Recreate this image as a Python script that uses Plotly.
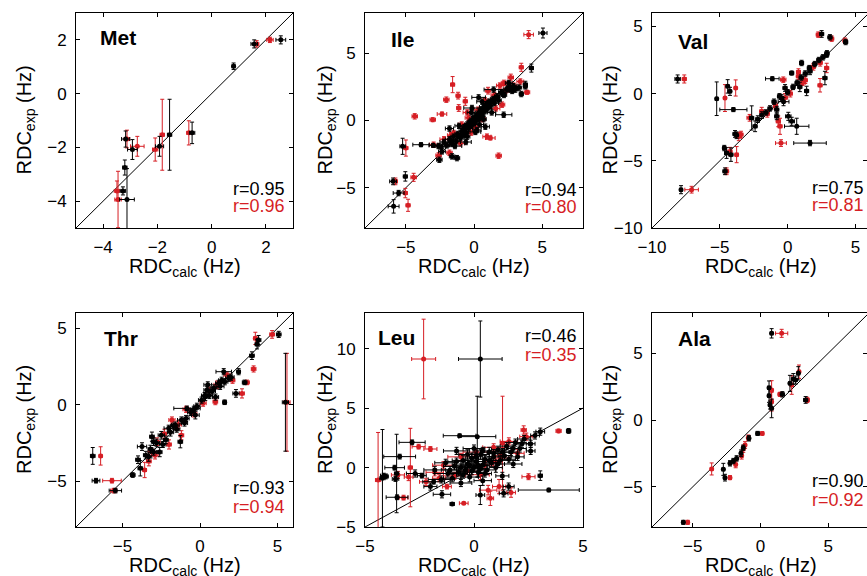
import plotly.graph_objects as go

# ---------------- data: (calc, exp, calc_err, exp_err) ----------------
MET_BLACK = [
    (2.55, 2.00, 0.18, 0.15), (1.57, 1.85, 0.12, 0.15), (0.81, 1.02, 0.06, 0.12),
    (-0.72, -1.46, 0.10, 0.40), (-1.55, -1.53, 0.08, 1.32), (-1.92, -1.96, 0.15, 0.37),
    (-2.92, -2.08, 0.18, 0.37), (-3.17, -1.69, 0.15, 0.30), (-3.20, -2.75, 0.08, 0.28),
    (-3.27, -3.62, 0.10, 0.15), (-3.12, -3.94, 0.27, 1.15),
]
MET_RED = [
    (2.15, 2.00, 0.12, 0.10), (1.66, 1.85, 0.08, 0.12), (-0.84, -1.46, 0.08, 0.45),
    (-1.82, -1.53, 0.08, 1.32), (-2.08, -2.08, 0.10, 0.43), (-2.74, -1.96, 0.25, 0.37),
    (-3.12, -1.69, 0.10, 0.33), (-3.49, -3.62, 0.10, 0.37), (-3.45, -3.94, 0.12, 1.05),
]

ILE_BLACK = [
    (5.06, 6.51, 0.30, 0.37), (4.21, 3.90, 0.15, 0.30), (3.77, 2.67, 0.15, 0.25),
    (3.77, 2.54, 0.12, 0.20), (3.47, 1.97, 0.15, 0.20), (3.03, 2.30, 0.20, 0.20),
    (2.55, 2.79, 0.25, 0.20), (2.18, 0.43, 0.60, 0.20), (1.44, 2.30, 0.70, 0.20),
    (0.34, 1.72, 0.50, 0.20), (-0.15, 0.93, 0.60, 0.20), (0.22, -0.71, 0.30, 0.20),
    (0.83, -0.46, 0.30, 0.20), (0.10, -0.85, 0.40, 0.20), (-5.24, -1.92, 0.20, 0.60),
    (-3.89, -1.80, 0.60, 0.15), (-5.94, -4.53, 0.25, 0.25), (-5.04, -4.16, 0.15, 0.35),
    (-5.53, -5.40, 0.40, 0.20), (-5.90, -6.39, 0.40, 0.50), (-2.54, -2.92, 0.20, 0.20),
    (-2.35, -2.30, 0.25, 0.20), (-1.61, -2.67, 0.20, 0.20), (-1.25, -2.80, 0.20, 0.20),
    (-3.00, -1.85, 0.30, 0.15), (-2.60, -1.90, 0.25, 0.20), (-2.20, -1.60, 0.30, 0.20),
    (-2.00, -1.85, 0.20, 0.20), (-1.80, -1.40, 0.30, 0.20), (-1.60, -1.75, 0.20, 0.20),
    (-1.50, -1.20, 0.20, 0.20), (-1.30, -1.55, 0.30, 0.20), (-1.20, -1.00, 0.20, 0.20),
    (-1.00, -1.30, 0.20, 0.20), (-0.90, -0.80, 0.20, 0.20), (-0.80, -1.10, 0.30, 0.20),
    (-0.70, -0.50, 0.20, 0.20), (-0.60, -0.90, 0.20, 0.20), (-0.50, -0.30, 0.20, 0.20),
    (-0.40, -0.60, 0.30, 0.20), (-0.30, -0.10, 0.20, 0.20), (-0.20, -0.40, 0.20, 0.20),
    (-0.10, 0.10, 0.20, 0.20), (0.00, -0.20, 0.20, 0.20), (0.10, 0.30, 0.20, 0.20),
    (0.20, 0.00, 0.20, 0.20), (0.30, 0.50, 0.30, 0.20), (0.40, 0.20, 0.20, 0.20),
    (0.50, 0.80, 0.20, 0.20), (0.60, 0.40, 0.20, 0.20), (0.70, 1.00, 0.30, 0.20),
    (0.80, 0.70, 0.20, 0.20), (0.90, 1.20, 0.20, 0.20), (1.00, 0.90, 0.30, 0.20),
    (1.10, 1.40, 0.20, 0.20), (1.20, 1.10, 0.20, 0.20), (1.40, 1.60, 0.20, 0.20),
    (1.50, 1.30, 0.30, 0.20), (1.70, 1.80, 0.20, 0.20), (1.80, 1.50, 0.20, 0.20),
    (2.00, 2.10, 0.20, 0.20), (2.20, 1.90, 0.20, 0.20), (2.40, 2.30, 0.20, 0.20),
    (2.60, 2.50, 0.20, 0.20), (2.80, 2.20, 0.20, 0.20), (3.30, 2.45, 0.20, 0.20),
    (-1.40, -1.90, 0.50, 0.20), (-0.60, -1.60, 0.40, 0.20), (-1.80, -0.60, 0.30, 0.20),
    (0.60, 1.40, 0.40, 0.20), (1.30, 0.60, 0.30, 0.20), (-0.20, 0.60, 0.30, 0.20),
    (-1.10, -0.40, 0.30, 0.20), (0.40, -0.30, 0.30, 0.20), (-2.40, -1.95, 0.30, 0.20),
    (-1.70, -1.55, 0.20, 0.20), (-1.10, -1.15, 0.20, 0.20), (-0.75, -0.75, 0.20, 0.20),
    (-0.35, -0.35, 0.20, 0.20), (0.05, 0.05, 0.20, 0.20), (0.45, 0.55, 0.20, 0.20),
    (0.85, 0.95, 0.20, 0.20), (1.25, 1.35, 0.20, 0.20), (1.65, 1.65, 0.20, 0.20),
    (2.10, 2.00, 0.20, 0.20), (2.50, 2.35, 0.20, 0.20), (2.90, 2.55, 0.20, 0.20),
    (-0.50, -1.20, 0.20, 0.20), (0.70, 0.10, 0.20, 0.20),
]
ILE_RED = [
    (4.01, 6.39, 0.35, 0.30), (3.47, 3.96, 0.15, 0.30), (3.89, 2.10, 0.20, 0.15),
    (-1.57, 2.67, 0.15, 0.60), (-2.03, 1.55, 0.20, 0.20), (-1.17, 1.85, 0.15, 0.25),
    (-1.12, 0.93, 0.15, 0.25), (-0.64, 1.43, 0.15, 0.30), (-4.35, 0.31, 0.20, 0.20),
    (-3.03, 0.06, 0.20, 0.15), (-2.35, 0.48, 0.35, 0.15), (1.81, -2.62, 0.20, 0.20),
    (0.95, -1.20, 0.30, 0.20), (1.20, -1.30, 0.35, 0.15), (-5.00, -2.05, 0.15, 0.60),
    (-2.96, -1.80, 0.30, 0.20), (-4.43, -4.23, 0.20, 0.30), (-5.04, -5.40, 0.15, 0.35),
    (-4.84, -6.31, 0.15, 0.45), (-5.77, -4.53, 0.15, 0.25), (1.03, 2.22, 0.20, 0.25),
    (2.06, 1.18, 0.20, 0.20), (-1.49, -0.93, 0.25, 0.20), (-2.20, -1.40, 0.30, 0.20),
    (-1.70, -1.10, 0.25, 0.20), (-0.90, -0.30, 0.25, 0.20), (-0.40, 0.20, 0.25, 0.20),
    (0.30, 0.80, 0.25, 0.20), (0.80, 1.50, 0.25, 0.20), (1.50, 1.90, 0.25, 0.20),
    (2.30, 2.20, 0.25, 0.20), (2.90, 2.60, 0.25, 0.20), (3.40, 2.90, 0.25, 0.20),
    (0.60, 0.10, 0.25, 0.20), (1.60, 0.90, 0.30, 0.20), (-0.20, -0.90, 0.30, 0.20),
    (0.10, -0.50, 0.25, 0.20), (-1.00, -1.70, 0.30, 0.20), (-2.60, -2.60, 0.20, 0.20),
    (-1.80, -2.40, 0.20, 0.20), (2.70, 3.20, 0.20, 0.25), (2.20, 2.80, 0.20, 0.20),
    (1.90, 2.60, 0.25, 0.20), (-0.50, 0.60, 0.30, 0.20),
]

VAL_BLACK = [
    (-8.11, 1.09, 0.20, 0.30), (-7.86, -7.15, 0.10, 0.30), (-5.23, -0.38, 0.10, 1.25),
    (-4.42, 0.54, 0.12, 0.50), (-4.25, 0.17, 0.12, 0.30), (-4.00, -1.19, 1.00, 0.15),
    (-3.88, -3.00, 0.15, 0.25), (-3.76, -3.10, 0.12, 0.25), (-4.67, -4.05, 0.12, 0.20),
    (-4.50, -4.42, 0.15, 0.40), (-4.18, -4.54, 0.15, 0.50), (-4.62, -5.78, 0.15, 0.25),
    (-1.13, 1.11, 0.50, 0.15), (0.30, 1.53, 0.15, 0.15), (1.03, 2.28, 0.15, 0.20),
    (1.65, 1.66, 0.15, 0.25), (2.51, 4.44, 0.15, 0.25), (3.12, 4.19, 0.15, 0.20),
    (4.28, 3.84, 0.15, 0.20), (2.88, 2.90, 0.15, 0.20), (2.75, 1.16, 0.15, 0.50),
    (0.67, -2.43, 0.90, 0.60), (1.65, -3.68, 1.20, 0.20), (0.05, -1.69, 0.20, 0.30),
    (0.30, -2.06, 0.20, 0.30), (-2.65, -1.81, 0.15, 0.90), (-2.40, -2.43, 0.15, 0.40),
    (-0.80, -1.69, 0.15, 0.25), (-0.80, -1.19, 0.15, 0.25), (-0.44, -0.33, 0.15, 0.25),
    (-0.19, 0.42, 0.15, 0.25), (-2.20, -1.90, 0.15, 0.25), (-1.90, -1.60, 0.15, 0.25),
    (-1.60, -1.40, 0.15, 0.20), (-1.30, -1.10, 0.15, 0.20), (-1.00, -0.60, 0.15, 0.20),
    (-0.60, -0.20, 0.15, 0.20), (0.00, 0.10, 0.15, 0.20), (0.40, 0.50, 0.15, 0.20),
    (0.70, 0.80, 0.15, 0.20), (1.00, 1.20, 0.15, 0.20), (1.30, 1.50, 0.15, 0.20),
    (1.60, 1.90, 0.15, 0.20), (2.00, 2.20, 0.15, 0.20), (2.30, 2.50, 0.15, 0.20),
    (2.60, 2.70, 0.15, 0.20), (2.90, 3.00, 0.15, 0.20), (0.90, 0.50, 0.15, 0.35),
    (1.40, 0.20, 0.15, 0.35), (-0.30, -0.60, 0.40, 0.30),
]
VAL_RED = [
    (-7.62, 1.09, 0.15, 0.30), (-7.08, -7.15, 0.50, 0.25), (-4.62, -0.33, 0.10, 1.00),
    (-3.83, 0.42, 0.10, 0.60), (-3.44, -3.05, 0.15, 0.25), (-4.25, -4.30, 0.15, 0.30),
    (-3.76, -4.54, 0.12, 0.60), (-4.50, -5.78, 0.15, 0.25), (-0.49, -3.68, 0.40, 0.25),
    (-0.56, -2.43, 0.15, 0.60), (-0.69, -2.06, 0.15, 0.40), (2.39, 0.62, 0.15, 0.50),
    (2.26, 4.39, 0.15, 0.20), (3.25, 4.09, 0.15, 0.20), (4.23, 3.94, 0.15, 0.20),
    (2.88, 1.91, 0.15, 0.35), (-1.91, -1.32, 0.15, 0.30), (0.79, 1.29, 0.15, 0.25),
    (-2.80, -1.80, 0.20, 0.25), (-1.50, -1.50, 0.15, 0.25), (-0.90, -0.90, 0.15, 0.25),
    (0.20, 0.00, 0.15, 0.25), (0.80, 1.60, 0.15, 0.25), (1.30, 1.00, 0.15, 0.25),
    (1.90, 2.00, 0.15, 0.25), (2.40, 2.30, 0.15, 0.25), (-0.32, 1.04, 0.20, 0.20),
    (1.10, 0.80, 0.20, 0.20), (-0.20, -0.30, 0.20, 0.30), (-3.60, -3.20, 0.20, 0.30),
]

THR_BLACK = [
    (5.08, 4.60, 0.15, 0.20), (3.78, 4.23, 0.15, 0.30), (3.68, 3.95, 0.12, 0.30),
    (3.35, 3.21, 0.15, 0.25), (2.88, 1.46, 0.15, 0.15), (2.32, 0.74, 0.20, 0.25),
    (1.59, 0.16, 0.12, 0.15), (5.51, 0.16, 0.20, 3.20), (2.49, 2.16, 0.12, 0.20),
    (1.53, 2.16, 0.50, 0.20), (-6.92, -3.35, 0.15, 0.55), (-6.71, -4.97, 0.25, 0.15),
    (-5.46, -5.62, 0.40, 0.15), (-4.34, -4.60, 0.15, 0.15), (-3.85, -4.16, 0.15, 0.50),
    (-3.74, -2.74, 0.30, 0.25), (-3.10, -2.09, 0.15, 0.30), (-2.99, -2.42, 0.15, 0.25),
    (-3.31, -3.40, 0.20, 0.30), (-2.02, -1.54, 0.30, 0.20), (-1.59, -1.33, 0.25, 0.20),
    (-1.27, -2.42, 0.15, 0.40), (-0.84, -0.24, 0.85, 0.15), (-0.30, -0.68, 0.25, 0.25),
    (0.45, 0.96, 0.20, 0.25), (0.34, 0.52, 0.25, 0.25), (1.20, 1.40, 0.20, 0.20),
    (1.85, 1.73, 0.20, 0.20), (-3.50, -3.30, 0.15, 0.25), (-3.20, -2.90, 0.15, 0.25),
    (-2.80, -2.50, 0.20, 0.25), (-2.50, -2.00, 0.20, 0.25), (-2.20, -2.30, 0.15, 0.25),
    (-1.90, -1.80, 0.20, 0.25), (-1.50, -1.60, 0.20, 0.20), (-1.20, -1.00, 0.25, 0.20),
    (-0.90, -0.90, 0.20, 0.20), (-0.60, -0.50, 0.20, 0.20), (-0.20, -0.10, 0.20, 0.20),
    (0.10, 0.30, 0.20, 0.20), (0.60, 0.60, 0.20, 0.20), (0.90, 1.10, 0.20, 0.20),
    (1.30, 1.20, 0.25, 0.20), (1.60, 1.50, 0.20, 0.20), (2.00, 1.80, 0.20, 0.20),
    (0.50, 1.30, 0.25, 0.20), (-2.60, -3.10, 0.15, 0.30), (-4.00, -3.60, 0.15, 0.25),
    (-3.00, -3.10, 0.20, 0.20), (-2.40, -2.60, 0.20, 0.20), (-1.70, -1.40, 0.20, 0.20),
    (-1.00, -1.20, 0.20, 0.20), (-0.40, -0.30, 0.20, 0.20), (0.30, 0.60, 0.20, 0.20),
    (0.80, 0.90, 0.20, 0.20), (1.40, 1.60, 0.20, 0.20), (1.00, 0.50, 0.20, 0.20),
]
THR_RED = [
    (4.65, 4.60, 0.15, 0.25), (3.57, 4.34, 0.12, 0.40), (3.46, 2.34, 0.15, 0.20),
    (3.03, 1.46, 0.15, 0.15), (2.71, 0.74, 0.15, 0.30), (0.99, 0.20, 0.15, 0.20),
    (5.61, 0.16, 0.20, 3.20), (-6.41, -3.35, 0.10, 0.60), (-5.68, -4.97, 0.60, 0.15),
    (-5.57, -5.62, 0.20, 0.15), (-3.57, -4.27, 0.12, 0.50), (-3.14, -3.07, 0.20, 0.25),
    (-2.77, -2.42, 0.20, 0.25), (-1.81, -1.00, 0.20, 0.20), (1.74, 1.94, 0.20, 0.20),
    (1.10, 1.30, 0.20, 0.25), (0.60, 0.90, 0.20, 0.25), (-0.40, -0.60, 0.20, 0.20),
    (-1.40, -1.30, 0.20, 0.25), (-2.30, -1.90, 0.15, 0.30), (-3.30, -3.70, 0.15, 0.30),
    (-2.90, -3.30, 0.20, 0.25), (2.10, 1.60, 0.15, 0.20), (0.20, 0.10, 0.20, 0.20),
    (-0.90, -0.30, 0.20, 0.20), (-2.00, -2.60, 0.15, 0.30), (-1.20, -2.00, 0.15, 0.30),
]

LEU_BLACK = [
    (0.29, 9.13, 1.00, 3.20), (0.15, 2.60, 0.85, 3.40), (-0.66, 2.68, 0.75, 0.15),
    (3.43, -1.89, 1.40, 0.15), (4.34, 3.08, 0.10, 0.20), (3.04, 3.02, 0.20, 0.30),
    (3.04, -0.68, 0.10, 0.40), (-4.20, -0.90, 0.12, 4.10), (-3.64, -0.01, 0.45, 0.20),
    (-3.55, -0.50, 0.10, 3.30), (-2.84, 2.12, 0.60, 0.20), (-3.41, 0.92, 0.73, 0.20),
    (-4.14, -0.68, 0.15, 0.20), (-3.60, -0.96, 0.15, 0.20), (-3.53, -2.50, 0.50, 0.20),
    (-2.39, -0.68, 0.20, 0.20), (-1.85, -1.19, 0.50, 0.20), (-1.00, -3.06, 0.10, 0.10),
    (-1.47, -2.25, 0.40, 0.30), (0.29, -2.31, 0.20, 0.80), (1.36, -2.17, 0.20, 0.30),
    (1.59, -1.60, 0.25, 0.30), (-1.20, -0.50, 0.60, 0.30), (-0.90, 0.10, 0.50, 0.30),
    (-0.70, -0.40, 0.40, 0.30), (-0.50, 0.60, 0.50, 0.40), (-0.40, -0.20, 0.40, 0.30),
    (-0.30, 0.30, 0.30, 0.30), (-0.20, -0.80, 0.40, 0.40), (-0.10, 0.80, 0.30, 0.40),
    (0.00, 0.00, 0.30, 0.30), (0.10, 0.50, 0.40, 0.30), (0.20, -0.40, 0.30, 0.40),
    (0.30, 1.10, 0.40, 0.40), (0.40, 0.20, 0.30, 0.30), (0.50, 0.70, 0.30, 0.30),
    (0.60, -0.20, 0.40, 0.40), (0.70, 1.30, 0.30, 0.40), (0.80, 0.40, 0.30, 0.30),
    (0.90, 0.90, 0.40, 0.30), (1.00, 0.00, 0.30, 0.40), (1.10, 1.50, 0.30, 0.30),
    (1.20, 0.60, 0.40, 0.30), (1.40, 1.00, 0.30, 0.30), (1.50, 1.80, 0.30, 0.30),
    (1.70, 1.30, 0.30, 0.30), (1.90, 2.10, 0.30, 0.30), (2.10, 1.60, 0.30, 0.30),
    (2.30, 2.40, 0.30, 0.30), (2.60, 2.00, 0.20, 0.30), (2.80, 2.70, 0.20, 0.30),
    (-1.50, -1.00, 0.60, 0.30), (-0.60, -1.30, 0.50, 0.30), (0.40, -1.10, 0.40, 0.40),
    (1.80, 0.30, 0.40, 0.30), (-0.80, 1.40, 0.60, 0.30), (0.00, 1.60, 0.50, 0.30),
    (-1.00, -0.90, 0.40, 0.30), (1.30, -0.70, 0.30, 0.30), (-0.20, 0.20, 0.80, 0.30),
    (-1.30, 0.40, 0.50, 0.30), (-1.10, -0.20, 0.40, 0.30), (-0.80, 0.50, 0.40, 0.30),
    (-0.50, -0.60, 0.30, 0.30), (-0.30, 1.10, 0.40, 0.40), (-0.10, -0.30, 0.30, 0.30),
    (0.10, 0.90, 0.30, 0.30), (0.20, 0.20, 0.30, 0.30), (0.40, 1.40, 0.30, 0.30),
    (0.50, -0.50, 0.30, 0.30), (0.70, 0.60, 0.30, 0.30), (0.90, 1.20, 0.30, 0.30),
    (1.10, 0.30, 0.30, 0.30), (1.30, 1.30, 0.30, 0.30), (1.60, 0.70, 0.30, 0.30),
    (1.80, 1.60, 0.30, 0.30), (2.00, 0.90, 0.30, 0.30), (2.20, 2.00, 0.30, 0.30),
    (-0.60, 0.00, 0.30, 0.30), (0.30, -0.10, 0.30, 0.30), (-1.80, -0.20, 0.50, 0.30),
    (-2.70, -0.50, 0.40, 0.30), (-2.00, -1.60, 0.30, 0.30), (2.60, 1.40, 0.20, 0.30),
    (-4.05, -0.75, 0.12, 0.20),
]
LEU_RED = [
    (-2.31, 9.13, 0.55, 3.35), (1.31, 2.05, 0.10, 3.95), (-4.40, -1.05, 0.12, 4.00),
    (-2.92, 0.00, 0.10, 3.30), (3.88, 3.08, 0.12, 0.15), (2.28, 3.16, 0.12, 0.35),
    (2.50, -0.77, 0.30, 0.25), (-2.54, 1.76, 0.30, 0.20), (-2.00, 1.56, 0.30, 0.20),
    (-3.23, -2.53, 0.20, 0.20), (-1.24, -1.60, 0.20, 0.20), (-0.47, -3.00, 0.20, 0.10),
    (0.75, -2.59, 0.15, 0.60), (0.65, -1.90, 0.40, 0.40), (1.15, -1.60, 0.30, 0.60),
    (1.70, -2.10, 0.20, 0.40), (-3.49, -0.62, 0.30, 0.30), (-3.00, -0.80, 0.20, 0.30),
    (-1.80, -0.40, 0.40, 0.30), (-1.40, 0.20, 0.50, 0.30), (-0.90, -0.70, 0.50, 0.30),
    (-0.60, 0.90, 0.60, 0.30), (-0.30, -0.30, 0.50, 0.30), (0.10, 1.30, 0.60, 0.30),
    (0.50, 0.20, 0.40, 0.30), (0.90, 1.70, 0.50, 0.30), (1.20, 0.80, 0.40, 0.30),
    (1.60, 2.20, 0.40, 0.30), (2.00, 1.20, 0.30, 0.30), (2.40, 2.60, 0.30, 0.30),
    (-2.20, -1.20, 0.30, 0.30), (-1.60, -0.90, 0.30, 0.30), (0.30, -0.60, 0.40, 0.40),
    (1.00, 0.50, 0.30, 0.50),
]

ALA_BLACK = [
    (0.82, 6.48, 0.10, 0.35), (0.63, 2.42, 0.10, 0.50), (0.63, 1.82, 0.10, 0.50),
    (0.70, 1.12, 0.10, 0.30), (0.82, 0.87, 0.10, 0.70), (1.61, 1.92, 0.15, 0.20),
    (2.17, 2.74, 0.10, 0.60), (2.42, 3.07, 0.10, 0.40), (2.59, 2.99, 0.10, 0.30),
    (2.79, 3.49, 0.10, 0.50), (3.33, 1.50, 0.15, 0.25), (-0.21, -1.00, 0.12, 0.15),
    (-0.85, -1.37, 0.10, 0.20), (-1.27, -2.07, 0.10, 0.20), (-1.44, -2.49, 0.10, 0.25),
    (-1.76, -2.87, 0.10, 0.20), (-2.00, -3.07, 0.10, 0.20), (-2.25, -3.24, 0.10, 0.20),
    (-2.74, -3.69, 0.10, 0.45), (-2.62, -4.31, 0.10, 0.25), (-5.69, -7.65, 0.10, 0.15),
]
ALA_RED = [
    (1.56, 6.48, 0.45, 0.30), (0.82, 2.24, 0.10, 0.70), (0.82, 1.37, 0.10, 0.70),
    (1.44, 1.92, 0.15, 0.15), (2.30, 2.62, 0.10, 0.70), (2.84, 3.61, 0.10, 0.50),
    (3.45, 1.50, 0.15, 0.20), (0.13, -1.00, 0.10, 0.12), (-0.90, -1.32, 0.10, 0.20),
    (-1.14, -1.87, 0.10, 0.25), (-1.27, -2.17, 0.10, 0.25), (-1.39, -2.67, 0.10, 0.25),
    (-1.83, -3.32, 0.10, 0.25), (-2.25, -4.31, 0.10, 0.15), (-3.60, -3.66, 0.10, 0.45),
    (-5.37, -7.65, 0.10, 0.15),
]

NAMES = ["Met", "Ile", "Val", "Thr", "Leu", "Ala"]
R_BLACK = ["r=0.95", "r=0.94", "r=0.75", "r=0.93", "r=0.46", "r=0.90"]
R_RED = ["r=0.96", "r=0.80", "r=0.81", "r=0.94", "r=0.35", "r=0.92"]
X_RANGES = [(-5, 3), (-8, 8), (-10, 6), (-8, 6), (-5, 5), (-8, 8)]
Y_RANGES = [(-5, 3), (-8, 8), (-10, 6), (-8, 6), (-5, 13), (-8, 8)]
X_TICKS = [[-4, -2, 0, 2], [-5, 0, 5], [-10, -5, 0, 5], [-5, 0, 5], [-5, 0, 5], [-5, 0, 5]]
Y_TICKS = [[-4, -2, 0, 2], [-5, 0, 5], [-10, -5, 0, 5], [-5, 0, 5], [-5, 0, 5, 10], [-5, 0, 5]]
BLACK_DATA = [MET_BLACK, ILE_BLACK, VAL_BLACK, THR_BLACK, LEU_BLACK, ALA_BLACK]
RED_DATA = [MET_RED, ILE_RED, VAL_RED, THR_RED, LEU_RED, ALA_RED]

# ---------------- layout geometry (pixels) ----------------
W, H = 867, 576
COLS = [(76, 293), (365, 583), (652, 869)]
ROWS = [(13, 228), (313, 527)]
FONT = "Liberation Sans, Arial, Helvetica, sans-serif"
RED = "rgb(214,30,36)"
BLK = "black"

fig = go.Figure()
layout = dict(template="none", width=W, height=H,
              margin=dict(l=0, r=0, t=0, b=0, pad=0, autoexpand=False),
              paper_bgcolor="white", plot_bgcolor="white", showlegend=False,
              font=dict(family=FONT, color="black"))
annotations = []


def px(x, y):
    return x / W, 1 - y / H


YT_X = [25, 326, 611]
RTEXT_X = [287, 579, 866]
NAME_POS = [(98, 37), (389, 39), (676, 41), (102, 338), (376, 337), (676, 338)]
RB_Y = [189, 190, 188, 488, 336, 481]
RR_Y = [206, 207, 205, 507, 355, 500]

for i in range(6):
    r, c = divmod(i, 3)
    x0, x1 = COLS[c]
    y0, y1 = ROWS[r]
    xlo, xhi = X_RANGES[i]
    ylo, yhi = Y_RANGES[i]
    vis_x1 = min(x1, W)
    xhi_vis = xlo + (xhi - xlo) * (vis_x1 - x0) / (x1 - x0)
    k = "" if i == 0 else str(i + 1)
    xa, ya = "x" + k, "y" + k
    common = dict(showgrid=False, zeroline=False, showline=True, linecolor="black",
                  linewidth=1, mirror="ticks", ticks="inside", ticklen=4,
                  tickwidth=1, tickcolor="black", automargin=False,
                  tickfont=dict(family=FONT, size=17, color="black"))
    layout["xaxis" + k] = dict(common, domain=[x0 / W, vis_x1 / W], range=[xlo, xhi_vis],
                               tickvals=X_TICKS[i], anchor=ya, ticklabelstandoff=4)
    layout["yaxis" + k] = dict(common, domain=[1 - y1 / H, 1 - y0 / H], range=[ylo, yhi],
                               tickvals=Y_TICKS[i], anchor=xa, ticklabelstandoff=5)

    lo, hi = min(xlo, ylo), max(xhi, yhi)
    fig.add_trace(go.Scatter(x=[lo, hi], y=[lo, hi], mode="lines", xaxis=xa, yaxis=ya,
                             line=dict(color="black", width=1), hoverinfo="skip"))
    for data, col in ((RED_DATA[i], RED), (BLACK_DATA[i], BLK)):
        fig.add_trace(go.Scatter(
            x=[d[0] for d in data], y=[d[1] for d in data], mode="markers",
            xaxis=xa, yaxis=ya,
            marker=dict(color=col, size=5, line=dict(width=0)),
            error_x=dict(type="data", array=[d[2] for d in data], color=col,
                         thickness=1, width=2),
            error_y=dict(type="data", array=[d[3] for d in data], color=col,
                         thickness=1, width=2),
        ))

    nx, ny = px(*NAME_POS[i])
    annotations.append(dict(x=nx, y=ny, xref="paper", yref="paper", text="<b>%s</b>" % NAMES[i],
                            showarrow=False, xanchor="left", yanchor="middle",
                            font=dict(family=FONT, size=21, color="black")))
    rx = RTEXT_X[c]
    for txt, yy, col in ((R_BLACK[i], RB_Y[i], BLK), (R_RED[i], RR_Y[i], RED)):
        ax_, ay_ = px(rx, yy)
        annotations.append(dict(x=ax_, y=ay_, xref="paper", yref="paper", text=txt,
                                showarrow=False, xanchor="right", yanchor="middle",
                                font=dict(family=FONT, size=18, color=col)))
    tx, ty = px((x0 + x1) / 2, y1 + 39)
    annotations.append(dict(x=tx, y=ty, xref="paper", yref="paper",
                            text="RDC<sub>calc</sub> (Hz)", showarrow=False,
                            xanchor="center", yanchor="middle",
                            font=dict(family=FONT, size=20, color="black")))
    tx, ty = px(YT_X[c], (y0 + y1) / 2)
    annotations.append(dict(x=tx, y=ty, xref="paper", yref="paper",
                            text="RDC<sub>exp</sub> (Hz)", showarrow=False, textangle=-90,
                            xanchor="center", yanchor="middle",
                            font=dict(family=FONT, size=20, color="black")))

layout["annotations"] = annotations
fig.update_layout(**layout)
fig.write_html(
    "out.html",
    config={"displayModeBar": False},
    post_script="document.body.style.margin='0px';"
                "document.documentElement.style.overflow='hidden';",
)
